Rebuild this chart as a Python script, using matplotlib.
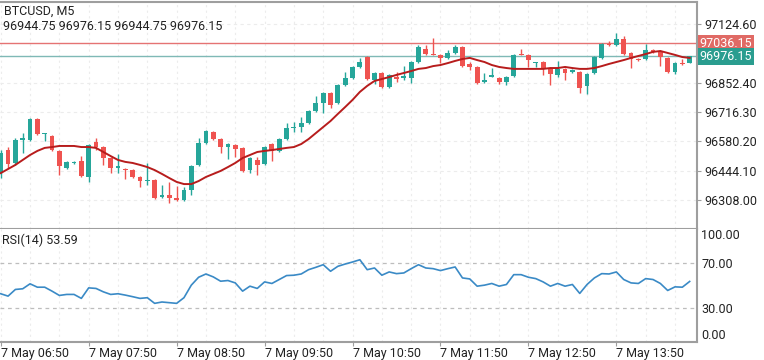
import matplotlib
matplotlib.use('Agg')
import matplotlib.pyplot as plt
import matplotlib.transforms as mtransforms

plt.rcParams['font.family'] = ['Roboto', 'DejaVu Sans']

symbol_title = 'BTCUSD, M5'
ohlc_title = '96944.75 96976.15 96944.75 96976.15'
rsi_title = 'RSI(14) 53.59'

opens = [96433, 96540, 96480, 96587, 96587, 96684, 96615, 96605, 96536, 96457,
         96480, 96489, 96415, 96577, 96554, 96503, 96457, 96452, 96447, 96415,
         96396, 96401, 96322, 96331, 96317, 96308, 96354, 96471, 96573, 96624,
         96591, 96554, 96564, 96550, 96447, 96494, 96475, 96568, 96536, 96591,
         96642, 96647, 96666, 96721, 96759, 96805, 96759, 96842, 96875, 96926,
         96972, 96865, 96898, 96833, 96879, 96875, 96875, 96949, 97009, 96986,
         96982, 96968, 96991, 97019, 96940, 96926, 96856, 96879, 96875, 96856,
         96884, 96986, 96982, 96944, 96949, 96921, 96889, 96917, 96903, 96903,
         96838, 96898, 96968, 97033, 97028, 97056, 96991, 96963, 96963, 97005,
         97000, 96968, 96903, 96944, 96944.75]
highs = [96540, 96554, 96596, 96619, 96689, 96689, 96619, 96610, 96540, 96489,
         96489, 96512, 96568, 96596, 96559, 96508, 96522, 96457, 96452, 96420,
         96480, 96406, 96378, 96392, 96373, 96368, 96471, 96596, 96633, 96629,
         96596, 96573, 96568, 96554, 96508, 96508, 96559, 96573, 96596, 96666,
         96670, 96694, 96726, 96791, 96810, 96810, 96847, 96903, 96930, 96968,
         96977, 96903, 96903, 96893, 96903, 96930, 96954, 97028, 97028, 97061,
         96986, 97005, 97028, 97023, 96949, 96930, 96898, 96921, 96879, 96884,
         96986, 97009, 96986, 96949, 96954, 96926, 96954, 96921, 96917, 96907,
         96898, 96977, 97037, 97047, 97084, 97070, 96996, 96968, 97033, 97009,
         97005, 96972, 96949, 96963, 96976.15]
lows = [96410, 96457, 96471, 96526, 96582, 96610, 96582, 96536, 96424, 96452,
        96475, 96415, 96392, 96540, 96471, 96433, 96433, 96406, 96410, 96368,
        96378, 96313, 96317, 96294, 96303, 96303, 96331, 96466, 96568, 96587,
        96526, 96498, 96508, 96438, 96433, 96424, 96471, 96489, 96531, 96587,
        96624, 96624, 96661, 96717, 96712, 96735, 96754, 96838, 96870, 96921,
        96865, 96847, 96828, 96828, 96856, 96865, 96852, 96944, 96982, 96982,
        96944, 96963, 96986, 96926, 96912, 96847, 96852, 96879, 96847, 96842,
        96879, 96982, 96926, 96926, 96889, 96842, 96879, 96865, 96898, 96805,
        96800, 96893, 96963, 97023, 97023, 96982, 96921, 96954, 96958, 96991,
        96930, 96898, 96893, 96935, 96944.75]
closes = [96526, 96475, 96587, 96596, 96684, 96615, 96619, 96540, 96466, 96485,
          96485, 96420, 96564, 96554, 96503, 96457, 96466, 96447, 96415, 96396,
          96401, 96317, 96331, 96317, 96308, 96354, 96466, 96573, 96629, 96591,
          96554, 96568, 96545, 96443, 96503, 96471, 96554, 96536, 96591, 96642,
          96647, 96666, 96721, 96759, 96805, 96749, 96842, 96875, 96926, 96949,
          96870, 96898, 96833, 96889, 96870, 96884, 96949, 97019, 96986, 96982,
          96968, 96991, 97019, 96930, 96926, 96852, 96865, 96889, 96856, 96879,
          96982, 96982, 96958, 96949, 96921, 96893, 96917, 96898, 96912, 96828,
          96893, 96972, 97033, 97028, 97056, 96986, 96963, 96958, 97005, 96996,
          96972, 96903, 96944, 96940, 96976.15]
ma_values = [96433, 96452, 96471, 96494, 96517, 96536, 96550, 96554, 96559, 96559,
             96559, 96554, 96554, 96550, 96531, 96512, 96494, 96485, 96480, 96471,
             96461, 96447, 96429, 96410, 96392, 96382, 96382, 96396, 96415, 96429,
             96443, 96461, 96480, 96503, 96517, 96531, 96536, 96540, 96545, 96550,
             96554, 96568, 96591, 96619, 96647, 96675, 96708, 96740, 96773, 96810,
             96838, 96861, 96870, 96879, 96889, 96898, 96907, 96917, 96921, 96930,
             96935, 96944, 96954, 96963, 96968, 96958, 96949, 96935, 96926, 96921,
             96917, 96917, 96917, 96917, 96917, 96921, 96921, 96926, 96921, 96917,
             96917, 96921, 96930, 96940, 96949, 96958, 96968, 96977, 96986, 96996,
             97000, 96991, 96982, 96972, 96968]
rsi_values = [42.7, 40.6, 46.5, 47.1, 51.5, 48.5, 48.5, 45.0, 41.2, 42.1,
              42.1, 38.6, 47.9, 47.4, 44.4, 42.1, 42.7, 41.5, 40.1, 38.6,
              39.2, 34.2, 35.4, 34.8, 34.2, 39.2, 50.3, 57.3, 60.2, 57.6,
              53.8, 54.4, 52.3, 45.0, 49.4, 47.4, 53.2, 51.8, 55.3, 58.8,
              59.1, 60.2, 64.0, 66.1, 68.4, 62.6, 67.0, 69.0, 70.8, 72.8,
              64.0, 65.5, 59.1, 62.0, 60.5, 61.1, 64.9, 68.4, 65.5, 64.9,
              63.2, 64.9, 66.4, 56.7, 55.8, 49.4, 50.3, 51.8, 49.4, 50.9,
              59.6, 59.6, 57.3, 56.1, 53.2, 49.4, 51.8, 49.4, 50.9, 43.0,
              50.9, 56.7, 60.5, 60.2, 62.0, 55.3, 52.3, 51.8, 56.1, 55.3,
              51.8, 45.6, 48.8, 48.5, 53.59]

time_tick_bars = [0, 12, 24, 36, 48, 60, 72, 84]
time_tick_labels = ['7 May 06:50', '7 May 07:50', '7 May 08:50', '7 May 09:50',
                    '7 May 10:50', '7 May 11:50', '7 May 12:50', '7 May 13:50']
price_ticks = [96308.00, 96444.10, 96580.20, 96716.30, 96852.40, 97124.60]
rsi_ticks = [0, 30, 70, 100]
ask_price = 97036.15
bid_price = 96976.15

UP = '#26a69a'
DOWN = '#ef5350'
SPINE = '#9e9e9e'
TXT = '#222222'
GRID = '#ececec'

W, H = 764, 360
fig = plt.figure(figsize=(W / 100, H / 100), dpi=100)


def fx(px):
    return px / W


def fy(px):
    return 1 - px / H


ax = fig.add_axes([0, fy(229), fx(697), (229 - 2) / H])
ax2 = fig.add_axes([0, fy(342), fx(697), (342 - 229) / H], sharex=ax)

n = len(closes)
xs = list(range(n))

# grids
for g in range(0, n, 4):
    ax.axvline(g, color=GRID, lw=0.8, ls=(0, (2, 3)), zorder=0)
    ax2.axvline(g, color=GRID, lw=0.8, ls=(0, (2, 3)), zorder=0)
for p in price_ticks:
    ax.axhline(p, color=GRID, lw=0.8, ls=(0, (3, 3)), zorder=0)

# ask / bid lines
ax.axhline(ask_price, color='#e57373', lw=1.0, zorder=1)
ax.axhline(bid_price, color='#7fb9b6', lw=1.0, zorder=1)

# candles
for i in xs:
    o, h, l, c = opens[i], highs[i], lows[i], closes[i]
    col = UP if c >= o else DOWN
    ax.vlines(i, l, h, color=col, lw=1.0, zorder=2)
    bottom = min(o, c)
    height = max(abs(c - o), 3.5)
    ax.bar(i, height, bottom=bottom, width=0.66, color=col, edgecolor=col,
           linewidth=0, zorder=3)

ax.plot(xs, ma_values, color='#b71c1c', lw=1.4, zorder=4)

ax.set_xlim(-0.1, 95.0)
ax.set_ylim(96173.3, 97227.7)

# RSI
ax2.axhline(70, color='#bdbdbd', lw=0.9, ls=(0, (3, 3)), zorder=0)
ax2.axhline(30, color='#bdbdbd', lw=0.9, ls=(0, (3, 3)), zorder=0)
ax2.plot(xs, rsi_values, color='#3a8ac6', lw=1.2, zorder=3)
ax2.set_ylim(0, 100)

# spines
for a in (ax, ax2):
    a.spines['left'].set_visible(False)
    for s in ('top', 'right', 'bottom'):
        a.spines[s].set_color(SPINE)
        a.spines[s].set_linewidth(1.5)
ax2.spines['top'].set_visible(False)

# y ticks main
ax.yaxis.tick_right()
ax.set_yticks(price_ticks)
ax.set_yticklabels(['%.2f' % p for p in price_ticks])
ax.tick_params(axis='y', direction='out', length=3, width=0.8, color=SPINE,
               pad=2, labelsize=9, labelcolor=TXT)
ax.tick_params(axis='x', bottom=False, labelbottom=False)

# y ticks rsi
ax2.yaxis.tick_right()
ax2.set_yticks(rsi_ticks)
ax2.set_yticklabels(['%.2f' % r for r in rsi_ticks])
ax2.tick_params(axis='y', direction='out', length=0, pad=3, labelsize=9,
                labelcolor=TXT)
ylabels = ax2.get_yticklabels()
ylabels[0].set_va('bottom')
ylabels[-1].set_va('top')

# x ticks
ax2.set_xticks(time_tick_bars)
ax2.set_xticklabels(time_tick_labels)
ax2.tick_params(axis='x', direction='out', length=3, width=0.8, color=SPINE,
                pad=0.5, labelsize=9, labelcolor=TXT)
for lab in ax2.get_xticklabels():
    lab.set_ha('left')

# price tags
trans = mtransforms.blended_transform_factory(ax.transAxes, ax.transData)
ax.text(1.004, ask_price, '%.2f' % ask_price, transform=trans, va='center',
        ha='left', color='white', fontsize=9,
        bbox=dict(boxstyle='square,pad=0.15', fc='#e06a65', ec='none'))
ax.text(1.004, bid_price, '%.2f' % bid_price, transform=trans, va='center',
        ha='left', color='white', fontsize=9,
        bbox=dict(boxstyle='square,pad=0.15', fc='#2a9d8f', ec='none'))

# titles
fig.text(fx(4), fy(11), symbol_title, va='center', ha='left', fontsize=9, color=TXT)
fig.text(fx(3), fy(27), ohlc_title, va='center', ha='left', fontsize=9, color=TXT)
fig.text(fx(2), fy(240), rsi_title, va='center', ha='left', fontsize=9, color=TXT)

fig.savefig('out.png', dpi=100, facecolor='white')
